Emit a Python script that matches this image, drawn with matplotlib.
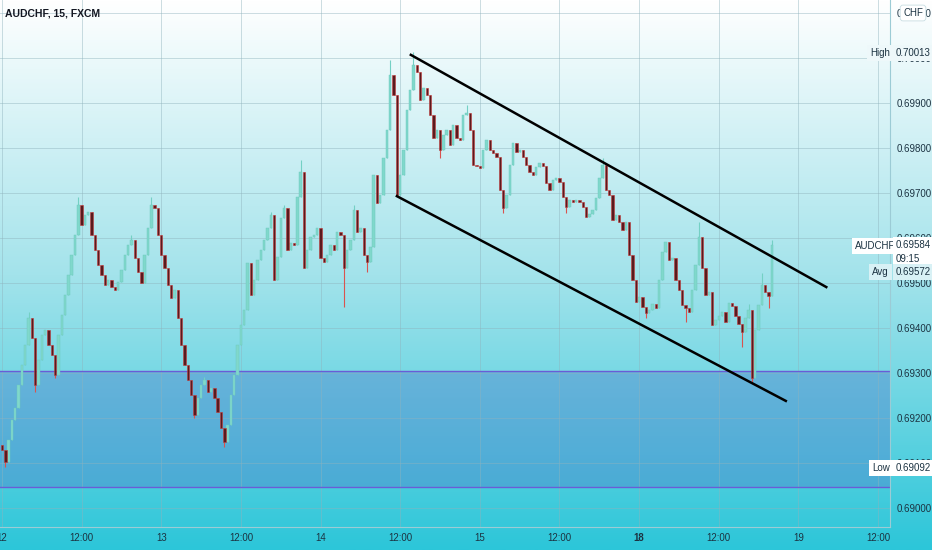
import numpy as np
import matplotlib
matplotlib.use("Agg")
import matplotlib.pyplot as plt
from matplotlib.colors import LinearSegmentedColormap

# AUDCHF closes, one per half hour of trading time
closes = [
    0.69129, 0.69102, 0.69151, 0.69196, 0.69222, 0.69273, 0.69318, 0.69362, 0.69422, 0.69378,
    0.69273, 0.69329, 0.69384, 0.69396, 0.69362, 0.69340, 0.69296, 0.69384, 0.69429, 0.69473,
    0.69518, 0.69562, 0.69607, 0.69673, 0.69629, 0.69651, 0.69658, 0.69607, 0.69573, 0.69540,
    0.69518, 0.69496, 0.69507, 0.69491, 0.69484, 0.69502, 0.69529, 0.69562, 0.69584, 0.69596,
    0.69556, 0.69524, 0.69500, 0.69562, 0.69622, 0.69673, 0.69667, 0.69607, 0.69562, 0.69533,
    0.69496, 0.69467, 0.69484, 0.69422, 0.69362, 0.69318, 0.69284, 0.69251, 0.69207, 0.69244,
    0.69273, 0.69284, 0.69258, 0.69267, 0.69244, 0.69213, 0.69178, 0.69147, 0.69184, 0.69251,
    0.69296, 0.69362, 0.69407, 0.69440, 0.69544, 0.69473, 0.69507, 0.69551, 0.69573, 0.69596,
    0.69622, 0.69651, 0.69507, 0.69558, 0.69644, 0.69667, 0.69573, 0.69589, 0.69584, 0.69691,
    0.69747, 0.69533, 0.69573, 0.69602, 0.69607, 0.69622, 0.69556, 0.69547, 0.69562, 0.69584,
    0.69573, 0.69613, 0.69607, 0.69533, 0.69573, 0.69596, 0.69662, 0.69613, 0.69622, 0.69562,
    0.69547, 0.69580, 0.69740, 0.69678, 0.69696, 0.69778, 0.69840, 0.69962, 0.69918, 0.69696,
    0.69740, 0.69796, 0.69884, 0.69929, 0.69984, 0.69969, 0.69907, 0.69933, 0.69918, 0.69873,
    0.69822, 0.69840, 0.69796, 0.69829, 0.69840, 0.69807, 0.69851, 0.69822, 0.69818, 0.69873,
    0.69878, 0.69840, 0.69762, 0.69760, 0.69756, 0.69796, 0.69818, 0.69796, 0.69789, 0.69780,
    0.69707, 0.69667, 0.69696, 0.69762, 0.69811, 0.69791, 0.69796, 0.69780, 0.69762, 0.69747,
    0.69740, 0.69758, 0.69767, 0.69760, 0.69722, 0.69707, 0.69729, 0.69733, 0.69724, 0.69691,
    0.69669, 0.69684, 0.69680, 0.69684, 0.69680, 0.69669, 0.69647, 0.69653, 0.69662, 0.69689,
    0.69733, 0.69762, 0.69707, 0.69696, 0.69640, 0.69651, 0.69636, 0.69618, 0.69636, 0.69562,
    0.69507, 0.69458, 0.69469, 0.69447, 0.69433, 0.69440, 0.69453, 0.69444, 0.69507, 0.69569,
    0.69591, 0.69551, 0.69556, 0.69507, 0.69484, 0.69451, 0.69444, 0.69436, 0.69484, 0.69540,
    0.69602, 0.69533, 0.69473, 0.69480, 0.69407, 0.69418, 0.69427, 0.69436, 0.69413, 0.69456,
    0.69449, 0.69427, 0.69409, 0.69391, 0.69422, 0.69440, 0.69289, 0.69396, 0.69451, 0.69496,
    0.69480, 0.69471, 0.69584,
]
first_open = 0.69140

# wick extremes that stick out beyond the bodies (bar index -> price)
wick_high = {8: 0.69436, 23: 0.69691, 39: 0.69607, 45: 0.69691, 61: 0.69291, 81: 0.69658,
             85: 0.69673, 90: 0.69773, 106: 0.69673, 117: 0.69996, 124: 0.70013, 140: 0.69896,
             181: 0.69778, 210: 0.69636, 225: 0.69453, 229: 0.69522, 232: 0.69596}
wick_low = {1: 0.69092, 10: 0.69258, 16: 0.69289, 58: 0.69200, 67: 0.69136, 103: 0.69447,
            110: 0.69524, 132: 0.69778, 151: 0.69656, 170: 0.69656, 194: 0.69422, 206: 0.69413,
            223: 0.69358, 226: 0.69280, 231: 0.69444}

time_ticks = [0, 12, 24, 36, 48, 60, 72, 84, 96, 108, 120, 132]
time_labels = ["12", "12:00", "13", "12:00", "14", "12:00", "15", "12:00", "18", "12:00", "19", "12:00"]
price_ticks = [0.690, 0.691, 0.692, 0.693, 0.694, 0.695, 0.696, 0.697, 0.698, 0.699, 0.700, 0.701]

zone = (0.69047, 0.69305)
upper_channel = ([61.6, 124.2], [0.70007, 0.69491])
lower_channel = ([59.5, 118.1], [0.69693, 0.69238])

font = ["Liberation Sans", "DejaVu Sans"]
fs = 7
ink = "#1c3342"
W, H = 932, 550

hours = np.arange(len(closes)) * 0.5
c = np.array(closes)
o = np.array([first_open] + closes[:-1])
hi = np.maximum(o, c)
lo = np.minimum(o, c)
for k, v in wick_high.items():
    hi[k] = max(hi[k], v)
for k, v in wick_low.items():
    lo[k] = min(lo[k], v)

fig = plt.figure(figsize=(W / 100, H / 100), dpi=100)

# gradient background behind everything
bg = fig.add_axes([0, 0, 1, 1], zorder=0)
bg.axis("off")
cmap = LinearSegmentedColormap.from_list("bg", ["#ffffff", "#a3e3eb", "#2cc6d9"])
bg.imshow(np.linspace(0, 1, 256).reshape(-1, 1), aspect="auto", cmap=cmap,
          extent=[0, 1, 0, 1], origin="upper")

ax = fig.add_axes([0, 23 / H, 890 / W, 527 / H], zorder=1)
ax.patch.set_alpha(0)
ax.set_xlim(-0.3, 133.8)
ax.set_ylim(0.689578, 0.701289)

ax.axhspan(zone[0], zone[1], color="#4f7fcc", alpha=0.42, lw=0, zorder=1)
ax.axhline(zone[0], color="#6a5cd6", lw=1, zorder=2)
ax.axhline(zone[1], color="#6a5cd6", lw=1, zorder=2)

up = c >= o
ax.vlines(hours[up], lo[up], hi[up], color="#74d0c4", lw=0.8, zorder=3)
ax.vlines(hours[~up], lo[~up], hi[~up], color="#d9534f", lw=0.8, zorder=3)
ax.bar(hours[up], (c - o)[up], bottom=o[up], width=0.36, color="#80d8cb",
       edgecolor="#6cc9bd", lw=0.3, zorder=4)
ax.bar(hours[~up], (o - c)[~up], bottom=c[~up], width=0.36, color="#5a1a1e",
       edgecolor="#c43c3c", lw=0.4, zorder=4)

ax.plot(*upper_channel, color="black", lw=1.8, zorder=5)
ax.plot(*lower_channel, color="black", lw=1.8, zorder=5)

ax.set_xticks(time_ticks)
ax.set_xticklabels(time_labels, family=font, fontsize=fs, color=ink)
ax.get_xticklabels()[8].set_fontweight("bold")
ax.set_yticks(price_ticks)
ax.set_yticklabels([f"{p:.5f}" for p in price_ticks], family=font, fontsize=fs, color=ink)
ax.yaxis.tick_right()
ax.tick_params(axis="y", length=0, pad=4.5)
ax.tick_params(axis="x", length=0, pad=4)
ax.grid(color="#8fb3bd", lw=0.7, alpha=0.45, zorder=0)
for s in ["top", "left"]:
    ax.spines[s].set_visible(False)
for s in ["right", "bottom"]:
    ax.spines[s].set_color("#9ccbd5")
    ax.spines[s].set_linewidth(0.8)


def px(x, y):
    return x / W, 1 - y / H


def label(x, y, s, fc, **kw):
    fig.text(*px(x, y), s, family=font, fontsize=fs, color=ink, va="center", ha="left",
             zorder=10, bbox=dict(boxstyle="square,pad=0.3", fc=fc, ec="none"), **kw)


fig.text(*px(5, 13), "AUDCHF, 15, FXCM", family=font, fontsize=7.5, fontweight="bold",
         color="#131722", va="center", ha="left")

fig.text(*px(913, 13), "CHF", family=font, fontsize=fs, color=ink, va="center",
         ha="center", zorder=10,
         bbox=dict(boxstyle="round,pad=0.3", fc="white", ec="#c8dde2", lw=0.6))
label(870, 53, "High", "#eef8fa")
label(896, 53, "0.70013", "#eef8fa")
label(855, 246, "AUDCHF", "white")
label(896, 252, "0.69584\n09:15", "white", linespacing=1.45)
label(872, 272, "Avg", "#d8f1f5")
label(896, 272, "0.69572", "#d8f1f5")
label(872, 468, "Low", "white")
label(896, 468, "0.69092", "white")

fig.savefig("out.png", dpi=100)
